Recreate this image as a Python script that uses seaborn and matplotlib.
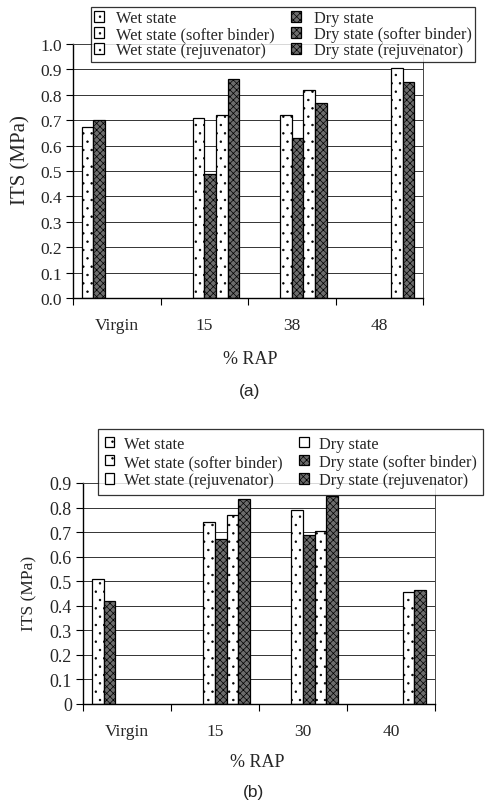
import matplotlib
matplotlib.use('Agg')
import matplotlib.pyplot as plt
import seaborn as sns
import pandas as pd
from matplotlib.patches import Patch
from matplotlib.ticker import FixedLocator

sns.set_theme(style='white')
plt.rcParams['font.family'] = ['Liberation Serif', 'DejaVu Serif']
plt.rcParams['hatch.linewidth'] = 0.5

series = ['Wet state', 'Dry state', 'Wet state (softer binder)',
          'Dry state (softer binder)', 'Wet state (rejuvenator)', 'Dry state (rejuvenator)']

# Panel (a)
cats_a = ['Virgin', '15', '38', '48']
wet_a = [0.675, None, None, None]
dry_a = [0.70, None, None, None]
wet_soft_a = [None, 0.71, 0.72, None]
dry_soft_a = [None, 0.49, 0.63, None]
wet_rej_a = [None, 0.72, 0.82, 0.905]
dry_rej_a = [None, 0.862, 0.766, 0.85]
yticks_a = ['0.0', '0.1', '0.2', '0.3', '0.4', '0.5', '0.6', '0.7', '0.8', '0.9', '1.0']

# Panel (b)
cats_b = ['Virgin', '15', '30', '40']
wet_b = [0.51, None, None, None]
dry_b = [0.42, None, None, None]
wet_soft_b = [None, 0.74, 0.79, None]
dry_soft_b = [None, 0.67, 0.69, None]
wet_rej_b = [None, 0.77, 0.705, 0.457]
dry_rej_b = [None, 0.833, 0.846, 0.465]
yticks_b = ['0', '0.1', '0.2', '0.3', '0.4', '0.5', '0.6', '0.7', '0.8', '0.9']

W, H = 492, 804
fig = plt.figure(figsize=(W / 100, H / 100), dpi=100)

key_colors = ['#ff0000', '#00ff00', '#0000ff', '#ffff00', '#00ffff', '#ff00ff']
palette = dict(zip(series, key_colors))

WET = dict(facecolor='white', hatch='..', edgecolor='black')
DRY = dict(facecolor='#6c6c6c', hatch='xxxxx', edgecolor='black')


def long_df(cats, cols):
    rows = []
    for s, vals in zip(series, cols):
        for c, v in zip(cats, vals):
            if v is not None:
                rows.append({'RAP': c, 'series': s, 'ITS': v})
    return pd.DataFrame(rows)


def panel(rect, cats, cols, ytl, ymax, ylab_xy, ylab_size, xlab_xy, tag, tag_xy,
          legend_xy, legend_styles, ytick_size, lspace, bpad, tpad):
    ax = fig.add_axes([rect[0] / W, 1 - rect[3] / H, (rect[2] - rect[0]) / W, (rect[3] - rect[1]) / H])
    df = long_df(cats, cols)
    sns.barplot(data=df, x='RAP', y='ITS', hue='series', order=cats, hue_order=series,
                palette=palette, dodge=True, width=0.8, errorbar=None, ax=ax,
                legend=False, saturation=1, linewidth=0.9, edgecolor='black')
    lut = {tuple(round(v, 3) for v in matplotlib.colors.to_rgb(c)): s for s, c in palette.items()}
    for p in ax.patches:
        key = tuple(round(v, 3) for v in p.get_facecolor()[:3])
        s = lut.get(key)
        if s is None:
            continue
        st = WET if s.startswith('Wet') else DRY
        p.set_facecolor(st['facecolor'])
        p.set_edgecolor(st['edgecolor'])
        p.set_hatch(st['hatch'])
        p.set_linewidth(0.9)
    ax.set_xlim(-0.5, 3.5)
    ax.set_ylim(0, ymax)
    yt = [i / 10 for i in range(len(ytl))]
    ax.set_yticks(yt)
    ax.set_yticklabels(ytl, fontsize=ytick_size)
    ax.yaxis.grid(True, color='#333333', linewidth=0.7)
    ax.set_axisbelow(True)
    ax.xaxis.set_minor_locator(FixedLocator([-0.5, 0.5, 1.5, 2.5, 3.5]))
    ax.tick_params(axis='x', which='major', length=0, pad=14, labelsize=12.5)
    ax.tick_params(axis='x', which='minor', length=5, width=0.8, direction='out', color='black', bottom=True)
    ax.tick_params(axis='y', which='major', length=5, width=0.8, direction='out', color='black', left=True, pad=3)
    ax.set_xlabel('')
    ax.set_ylabel('')
    for side in ['left', 'bottom']:
        ax.spines[side].set_color('black')
        ax.spines[side].set_linewidth(1.0)
    for side in ['right', 'top']:
        ax.spines[side].set_color('#444444')
        ax.spines[side].set_linewidth(0.7)
    fig.text(ylab_xy[0] / W, 1 - ylab_xy[1] / H, 'ITS (MPa)', rotation=90,
             ha='center', va='center', fontsize=ylab_size)
    fig.text(xlab_xy[0] / W, 1 - xlab_xy[1] / H, '% RAP', ha='center', va='center', fontsize=13)
    fig.text(tag_xy[0] / W, 1 - tag_xy[1] / H, tag, ha='center', va='center', fontsize=12.5,
             family=['Liberation Sans', 'DejaVu Sans'])
    order = [0, 2, 4, 1, 3, 5]
    handles = [Patch(**legend_styles[i], linewidth=0.9) for i in order]
    labels = [series[i] for i in order]
    leg = fig.legend(handles, labels, loc='upper left',
                     bbox_to_anchor=(legend_xy[0] / W, 1 - legend_xy[1] / H),
                     ncol=2, fontsize=11.8, frameon=True, fancybox=False, shadow=False,
                     handlelength=0.6, handleheight=0.6, handletextpad=tpad,
                     columnspacing=1.0, labelspacing=lspace, borderpad=bpad,
                     borderaxespad=0)
    leg.get_frame().set_edgecolor('black')
    leg.get_frame().set_linewidth(0.9)
    leg.get_frame().set_facecolor('white')
    return ax


styles_a = [WET, DRY, WET, DRY, WET, DRY]
styles_b = [WET, dict(facecolor='white', hatch='', edgecolor='black'), WET, DRY,
            dict(facecolor='white', hatch='', edgecolor='black'), DRY]

panel((73, 45, 423, 299), cats_a, [wet_a, dry_a, wet_soft_a, dry_soft_a, wet_rej_a, dry_rej_a],
      yticks_a, 1.0, (21, 160), 15, (250, 360), '(a)', (250, 392), (91, 8), styles_a, 12.5,
      0.0, 0.2, 0.75)
panel((83, 484, 435, 705), cats_b, [wet_b, dry_b, wet_soft_b, dry_soft_b, wet_rej_b, dry_rej_b],
      yticks_b, 0.9, (29, 593), 12.5, (257, 763), '(b)', (253, 793), (98, 430), styles_b, 13,
      0.15, 0.4, 0.6)

fig.savefig('out.png', dpi=100, facecolor='white')
